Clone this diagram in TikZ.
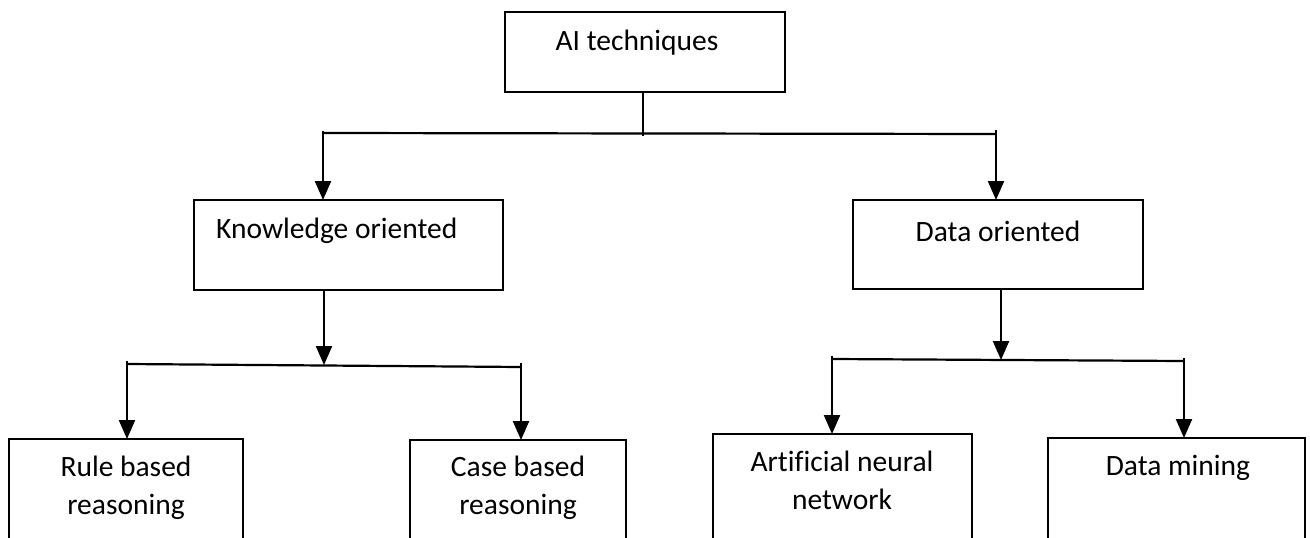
\documentclass[tikz,border=0pt]{standalone}
\usepackage{fontspec}
\setmainfont[Ligatures=NoCommon]{Carlito}
\usetikzlibrary{arrows.meta,calc}
\begin{document}
\begin{tikzpicture}[x=1pt,y=-1pt,
  box/.style={draw, line width=1.8pt, rectangle, inner sep=0pt, outer sep=0pt, anchor=north west},
  conn/.style={line width=2.2pt},
  arr/.style={conn, -{Triangle[width=16pt,length=19pt]}},
  lbl/.style={font=\fontsize{29.5}{38}\selectfont, align=center, inner sep=0pt}]
\useasboundingbox (0,0) rectangle (1310,538);
\clip (0,0) rectangle (1310,538);

% boxes
\node[box, minimum width=280pt, minimum height=80pt] (AI) at (505,12) {};
\node[box, minimum width=309pt, minimum height=90pt] (K) at (194,200) {};
\node[box, minimum width=290pt, minimum height=89pt] (D) at (853,200) {};
\node[box, minimum width=234pt, minimum height=140pt] (R) at (9,439) {};
\node[box, minimum width=216pt, minimum height=140pt] (C) at (410,440) {};
\node[box, minimum width=259pt, minimum height=140pt] (N) at (713,434) {};
\node[box, minimum width=257pt, minimum height=140pt] (M) at (1048,438) {};

% labels
\node[lbl] (tAI) at (637,43) {AI techniques};
\node[lbl, anchor=west] (tK) at (216,231) {Knowledge oriented};
\node[lbl] (tD) at (998,231) {Data oriented};
\node[lbl] (tR) at (126,488) {Rule based\\reasoning};
\node[lbl] (tC) at (518,488) {Case based\\reasoning};
\node[lbl] (tN) at (842,480) {Artificial neural\\network};
\node[lbl] (tM) at (1178,468) {Data mining};

% junction points
\coordinate (tl) at (323,133);
\coordinate (tr) at (996,134);
\coordinate (kj) at (324,365);
\coordinate (ll) at (127,364);
\coordinate (lr) at (521,367);
\coordinate (dj) at (1001,360);
\coordinate (rl) at (832,359);
\coordinate (rr) at (1184,361);

% top level
\draw[conn] (AI.south -| 643,0) -- (643,136);
\draw[conn] (tl) -- (tr);
\draw[arr] ($(tl)+(0,-2)$) -- (tl |- K.north);
\draw[arr] ($(tr)+(0,-4)$) -- (tr |- D.north);

% knowledge oriented branch
\draw[arr] (K.south -| kj) -- (kj);
\draw[conn] (ll) -- (lr);
\draw[arr] ($(ll)+(0,-3)$) -- (ll |- R.north);
\draw[arr] ($(lr)+(0,-4)$) -- (lr |- C.north);

% data oriented branch
\draw[arr] (D.south -| dj) -- (dj);
\draw[conn] (rl) -- (rr);
\draw[arr] ($(rl)+(0,-3)$) -- (rl |- N.north);
\draw[arr] ($(rr)+(0,-3)$) -- (rr |- M.north);
\end{tikzpicture}
\end{document}
